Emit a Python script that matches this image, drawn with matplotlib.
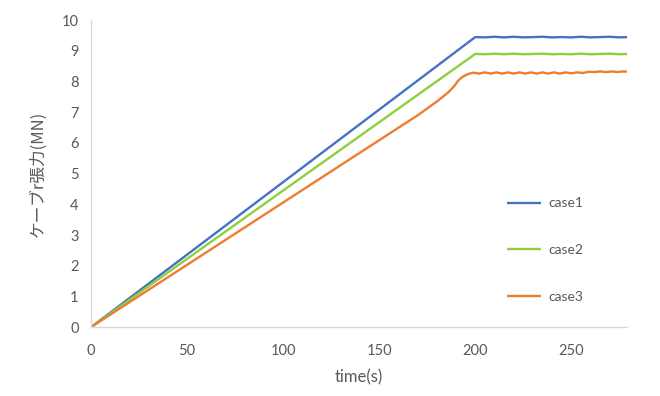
import matplotlib
matplotlib.use("Agg")
import matplotlib.pyplot as plt

plt.rcParams['font.family'] = ['Lato', 'Noto Sans CJK JP', 'DejaVu Sans']

# data
t1 = [0, 200, 205, 210, 215, 220, 225, 230, 235, 240, 245, 250, 255, 260, 265, 270, 275, 280]
case1 = [0, 9.45, 9.44, 9.46, 9.44, 9.46, 9.44, 9.45, 9.46, 9.44, 9.45, 9.44, 9.46, 9.44, 9.45, 9.46, 9.44, 9.45]

t2 = [0, 200, 205, 210, 215, 220, 225, 230, 235, 240, 245, 250, 255, 260, 265, 270, 275, 280]
case2 = [0, 8.90, 8.89, 8.91, 8.89, 8.91, 8.89, 8.90, 8.91, 8.89, 8.90, 8.89, 8.91, 8.89, 8.90, 8.91, 8.89, 8.90]

t3 = [0, 50, 100, 150, 170, 180, 186, 189, 191, 193, 195, 197, 199, 202, 205, 208, 211, 214, 217, 220,
      223, 226, 229, 232, 235, 238, 241, 244, 247, 250, 253, 256, 259, 262, 265, 268, 271, 274, 277, 280]
case3 = [0, 2.03, 4.06, 6.09, 6.90, 7.35, 7.65, 7.85, 8.02, 8.14, 8.21, 8.26, 8.29, 8.26, 8.30, 8.26, 8.30, 8.26, 8.30, 8.26,
         8.30, 8.26, 8.30, 8.26, 8.30, 8.26, 8.30, 8.26, 8.30, 8.27, 8.30, 8.28, 8.32, 8.31, 8.33, 8.31, 8.33, 8.31, 8.33, 8.32]

labels = ['case1', 'case2', 'case3']
colors = ['#4472C4', '#8DCF3F', '#ED7D31']
xticks = [0, 50, 100, 150, 200, 250]
yticks = list(range(0, 11))

fig = plt.figure(figsize=(6.6, 3.96), dpi=100)
ax = fig.add_axes([0.138, 0.174, 0.812, 0.775])

for t, v, lab, c in zip([t1, t2, t3], [case1, case2, case3], labels, colors):
    ax.plot(t, v, color=c, lw=1.7, label=lab, solid_capstyle='butt')

ax.set_xlim(0, 279)
ax.set_ylim(0, 10)
ax.set_xticks(xticks)
ax.set_yticks(yticks)
for s in ['top', 'right']:
    ax.spines[s].set_visible(False)
for s in ['left', 'bottom']:
    ax.spines[s].set_color('#D9D9D9')
    ax.spines[s].set_linewidth(1.0)
ax.tick_params(axis='both', length=0, labelsize=10.5, labelcolor='#595959')
ax.tick_params(axis='x', pad=12)
ax.tick_params(axis='y', pad=9)

ax.set_xlabel('time(s)', fontsize=12, color='#595959', labelpad=8)
ax.set_ylabel('ケーブr張力(MN)', fontsize=12, color='#595959', labelpad=11,
              family=['Noto Sans CJK JP', 'DejaVu Sans'])

leg = ax.legend(loc='upper left', bbox_to_anchor=(0.757, 0.519), bbox_transform=fig.transFigure,
                frameon=False, fontsize=10, labelspacing=2.5, handlelength=2.5,
                handletextpad=0.5, borderpad=0)
for txt in leg.get_texts():
    txt.set_color('#595959')

fig.savefig('out.png', dpi=100)
